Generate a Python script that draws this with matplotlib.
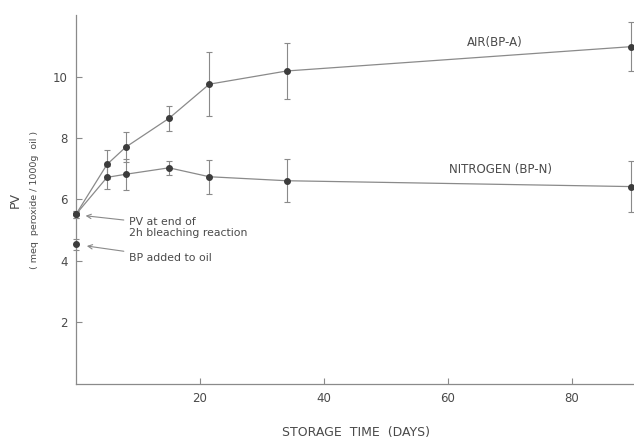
import numpy as np
import matplotlib
matplotlib.use("Agg")
import matplotlib.pyplot as plt

# storage time (days)
days = [0, 5, 8, 15, 21.5, 34, 89.5]

# air (BP-A)
air_pv = [5.52, 7.14, 7.70, 8.64, 9.75, 10.18, 10.97]
air_err = [0.12, 0.46, 0.48, 0.40, 1.05, 0.90, 0.80]

# nitrogen (BP-N)
n2_pv = [5.52, 6.72, 6.82, 7.03, 6.74, 6.61, 6.42]
n2_err = [0.12, 0.37, 0.50, 0.22, 0.55, 0.70, 0.82]

# BP added to oil
bp_day = [0]
bp_pv = [4.54]
bp_err = [0.17]

xticks = [20, 40, 60, 80]
yticks = [2, 4, 6, 8, 10]

txt = "#4a4a4a"
ln = "#8a8a8a"
mk = "#3c3c3c"

fig = plt.figure(figsize=(6.34, 4.40), dpi=100)
ax = fig.add_axes([0.1199, 0.1273, 0.8801, 0.8386])

for y, e in [(air_pv, air_err), (n2_pv, n2_err)]:
    ax.errorbar(days, y, yerr=e, color=ln, lw=0.9, elinewidth=0.8,
                capsize=2.5, capthick=0.8, ecolor=ln, marker="o", ms=4,
                mfc=mk, mec=mk, clip_on=False, zorder=3)
ax.errorbar(bp_day, bp_pv, yerr=bp_err, color=ln, lw=0, elinewidth=0.8,
            capsize=2.5, capthick=0.8, ecolor=ln, marker="o", ms=4,
            mfc=mk, mec=mk, clip_on=False, zorder=3)

ax.set_xlim(0, 90)
ax.set_ylim(0, 12)
ax.set_xticks(xticks)
ax.set_yticks(yticks)
ax.tick_params(direction="in", length=4, width=0.8, colors=ln,
               labelcolor=txt, labelsize=8.5, pad=6)
for s in ["top", "right"]:
    ax.spines[s].set_visible(False)
for s in ["left", "bottom"]:
    ax.spines[s].set_color(ln)
    ax.spines[s].set_linewidth(0.9)

ax.text(67.5, 11.09, "AIR(BP-A)", color=txt, fontsize=8.5, ha="center",
        va="center")
ax.text(68.5, 6.96, "NITROGEN (BP-N)", color=txt, fontsize=8.5,
        ha="center", va="center")

ax.annotate("PV at end of\n2h bleaching reaction", xy=(1.1, 5.48),
            xytext=(8.6, 5.1), color=txt, fontsize=7.8, va="center",
            linespacing=1.1,
            arrowprops=dict(arrowstyle="->", color=ln, lw=0.8))
ax.annotate("BP added to oil", xy=(1.3, 4.5), xytext=(8.6, 4.1),
            color=txt, fontsize=7.8, va="center",
            arrowprops=dict(arrowstyle="->", color=ln, lw=0.8))

fig.text(0.024, 0.545, "PV", rotation=90, color=txt, fontsize=9,
         ha="center", va="center")
fig.text(0.054, 0.545, "( meq  peroxide / 1000g  oil )", rotation=90,
         color=txt, fontsize=6.8, ha="center", va="center")
fig.text(0.562, 0.016, "STORAGE  TIME  (DAYS)", color=txt, fontsize=9,
         ha="center", va="center")

fig.savefig("out.png", dpi=100)
